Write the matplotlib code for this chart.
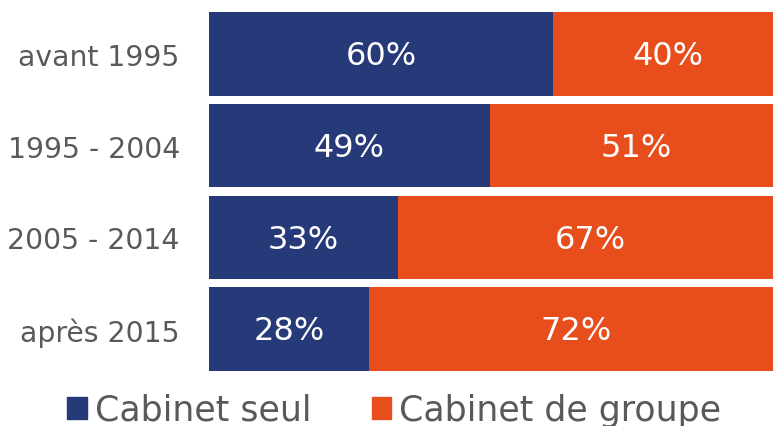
import matplotlib.pyplot as plt
from matplotlib.patches import Patch

# donnees du graphique
periodes = ['avant 1995', '1995 - 2004', '2005 - 2014', 'après 2015']
cabinet_seul = [60, 49, 33, 28]
cabinet_groupe = [40, 51, 67, 72]
series = ['Cabinet seul', 'Cabinet de groupe']

bleu = '#263979'
orange = '#E84E1C'
gris = '#595959'

plt.rcParams['font.family'] = ['DejaVu Sans']

fig = plt.figure(figsize=(7.73, 4.27), dpi=100)
ax = fig.add_axes([209 / 773, 1 - 376 / 427, 1 - 209 / 773, (376 - 9) / 427])

y = range(len(periodes))
ax.barh(y, cabinet_seul, height=0.91, color=bleu)
ax.barh(y, cabinet_groupe, left=cabinet_seul, height=0.91, color=orange)

# etiquettes dans les barres
for i in y:
    ax.text(cabinet_seul[i] / 2, i + 0.02, f'{cabinet_seul[i]}%', ha='center', va='center',
            color='white', fontsize=23)
    ax.text(cabinet_seul[i] + cabinet_groupe[i] / 2, i + 0.02, f'{cabinet_groupe[i]}%',
            ha='center', va='center', color='white', fontsize=23)

ax.set_xlim(0, 98.4)
ax.set_ylim(3.5, -0.5)
ax.set_yticks(list(y))
ax.set_yticklabels(periodes, fontsize=20.3, color=gris)
ax.tick_params(axis='y', length=0, pad=21)
ax.set_xticks([])
for s in ax.spines.values():
    s.set_visible(False)

handles = [Patch(color=bleu), Patch(color=orange)]
fig.legend(handles, series, loc='lower center', bbox_to_anchor=(0.51, -0.075), ncol=2,
           frameon=False, fontsize=25, labelcolor=gris, handlelength=0.55,
           handleheight=0.6, handletextpad=0.23, columnspacing=1.75)

fig.savefig('out.png', dpi=100)
